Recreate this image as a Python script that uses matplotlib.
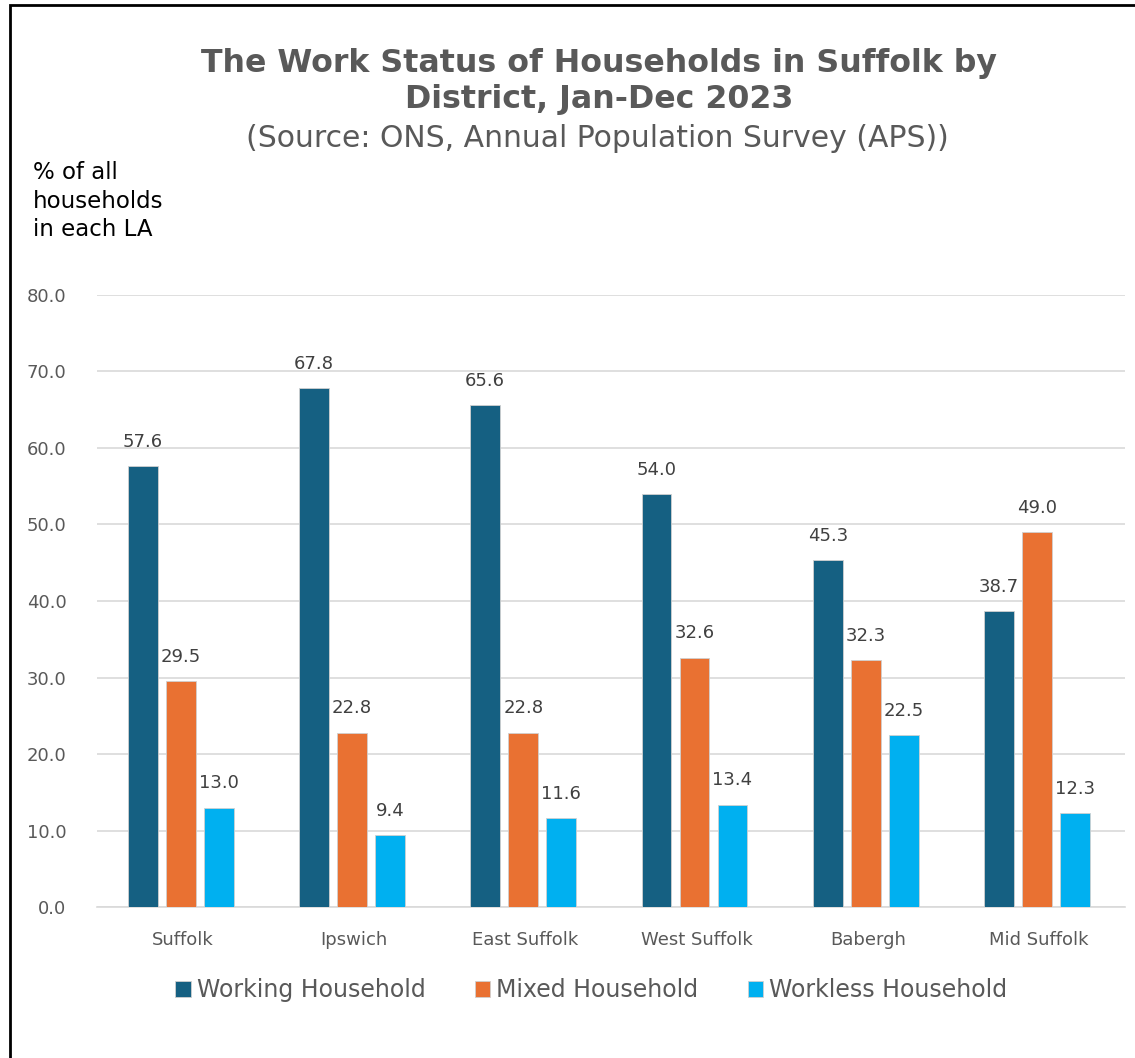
import numpy as np
import matplotlib.pyplot as plt
from matplotlib.patches import Rectangle

districts = ["Suffolk", "Ipswich", "East Suffolk", "West Suffolk", "Babergh", "Mid Suffolk"]
series_names = ["Working Household", "Mixed Household", "Workless Household"]
working = [57.6, 67.8, 65.6, 54.0, 45.3, 38.7]
mixed = [29.5, 22.8, 22.8, 32.6, 32.3, 49.0]
workless = [13.0, 9.4, 11.6, 13.4, 22.5, 12.3]
colors = ["#156082", "#E97132", "#00B0F0"]

fig = plt.figure(figsize=(11.35, 10.58), dpi=100)
ax = fig.add_axes([0.0855, 0.1427, 0.9055, 0.5785])

x = np.arange(len(districts))
width = 0.174
step = 0.222
for i, (vals, name) in enumerate(zip([working, mixed, workless], series_names)):
    bars = ax.bar(x + (i - 1) * step - 0.012, vals, width, color=colors[i], label=name,
                  edgecolor="#d0d0d0", linewidth=0.6, zorder=3)
    for b, v in zip(bars, vals):
        ax.text(b.get_x() + b.get_width() / 2, v + 2.0, f"{v:.1f}",
                ha="center", va="bottom", fontsize=13, color="#404040")

ax.set_xlim(-0.5, len(districts) - 0.5)
ax.set_ylim(0, 80)
ax.set_yticks(np.arange(0, 81, 10))
ax.set_yticklabels([f"{t:.1f}" for t in np.arange(0, 81, 10)])
ax.yaxis.grid(True, color="#d9d9d9", linewidth=1.2, zorder=0)
ax.set_xticks(x)
ax.set_xticklabels(districts)
ax.tick_params(axis="both", length=0, labelsize=13, labelcolor="#595959")
ax.tick_params(axis="x", pad=17)
ax.tick_params(axis="y", pad=22)
for s in ["top", "right", "left"]:
    ax.spines[s].set_visible(False)
ax.spines["bottom"].set_color("#d9d9d9")
ax.spines["bottom"].set_linewidth(1.2)

fig.text(0.528, 0.923, "The Work Status of Households in Suffolk by\nDistrict, Jan-Dec 2023",
         ha="center", va="center", fontsize=22.8, fontweight="bold", color="#595959",
         linespacing=1.24)
fig.text(0.526, 0.869, "(Source: ONS, Annual Population Survey (APS))",
         ha="center", va="center", fontsize=21.5, color="#595959")
fig.text(0.029, 0.810, "% of all\nhouseholds\nin each LA", ha="left", va="center",
         fontsize=16.5, color="black", linespacing=1.3)

fig.legend(loc="center", bbox_to_anchor=(0.521, 0.064), ncol=3, frameon=False,
           fontsize=17, handlelength=0.65, handleheight=0.65, handletextpad=0.25,
           columnspacing=2.1, labelcolor="#595959")

# border
fig.add_artist(Rectangle((0.009, -0.1), 1.5, 1.095, transform=fig.transFigure,
                         fill=False, edgecolor="black", linewidth=2))

fig.savefig("out.png", dpi=100)
